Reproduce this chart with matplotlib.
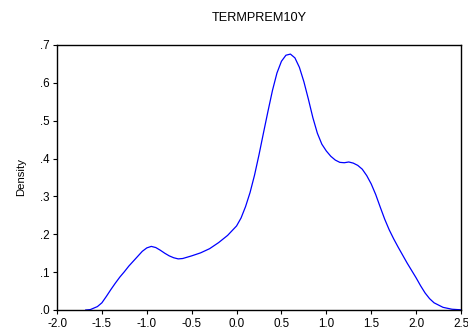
import matplotlib
matplotlib.use("Agg")
import matplotlib.pyplot as plt

plt.rcParams['font.family'] = ['Liberation Sans', 'DejaVu Sans']

title = "TERMPREM10Y"
ylabel = "Density"

# Kernel density estimate of the 10-year term premium
x_vals = [-1.68, -1.63, -1.6, -1.55, -1.5, -1.45, -1.4, -1.35, -1.3, -1.25,
          -1.2, -1.15, -1.1, -1.05, -1.0, -0.95, -0.9, -0.85, -0.8, -0.75,
          -0.7, -0.65, -0.6, -0.5, -0.4, -0.3, -0.2, -0.1, 0.0, 0.05,
          0.1, 0.15, 0.2, 0.25, 0.3, 0.35, 0.4, 0.45, 0.5, 0.55,
          0.6, 0.65, 0.7, 0.75, 0.8, 0.85, 0.9, 0.95, 1.0, 1.05,
          1.1, 1.15, 1.2, 1.25, 1.3, 1.35, 1.4, 1.45, 1.5, 1.55,
          1.6, 1.65, 1.7, 1.75, 1.8, 1.9, 2.0, 2.05, 2.1, 2.15,
          2.2, 2.3, 2.4, 2.5]
density = [0.0, 0.001, 0.004, 0.009, 0.019, 0.036, 0.054, 0.071, 0.087, 0.101,
           0.116, 0.129, 0.142, 0.155, 0.164, 0.168, 0.165, 0.158, 0.150, 0.143,
           0.138, 0.135, 0.136, 0.143, 0.151, 0.162, 0.178, 0.197, 0.222, 0.243,
           0.273, 0.310, 0.356, 0.410, 0.468, 0.525, 0.580, 0.626, 0.657, 0.673,
           0.676, 0.666, 0.641, 0.603, 0.557, 0.508, 0.467, 0.438, 0.420, 0.406,
           0.396, 0.390, 0.389, 0.391, 0.388, 0.382, 0.372, 0.355, 0.333, 0.305,
           0.272, 0.240, 0.212, 0.188, 0.166, 0.124, 0.085, 0.064, 0.045, 0.030,
           0.019, 0.007, 0.002, 0.0005]

x_ticks = [-2.0, -1.5, -1.0, -0.5, 0.0, 0.5, 1.0, 1.5, 2.0, 2.5]
x_ticklabels = ["-2.0", "-1.5", "-1.0", "-0.5", "0.0", "0.5", "1.0", "1.5", "2.0", "2.5"]
y_ticks = [0.0, 0.1, 0.2, 0.3, 0.4, 0.5, 0.6, 0.7]
y_ticklabels = [".0", ".1", ".2", ".3", ".4", ".5", ".6", ".7"]

W, H = 468, 332
fig = plt.figure(figsize=(W / 100, H / 100), dpi=100)
ax = fig.add_axes([57 / W, 1 - 310 / H, (461 - 57) / W, (310 - 45) / H])

ax.plot(x_vals, density, color="#0000ff", linewidth=0.9)

ax.set_xlim(-2.0, 2.5)
ax.set_ylim(0.0, 0.7)
ax.set_xticks(x_ticks)
ax.set_xticklabels(x_ticklabels)
ax.set_yticks(y_ticks)
ax.set_yticklabels(y_ticklabels)
ax.tick_params(direction="out", length=3, width=0.8, pad=2.5,
               labelsize=8.4, colors="black")

for sp in ax.spines.values():
    sp.set_linewidth(1.0)
    sp.set_color("black")

for lbl in ax.get_xticklabels():
    lbl.set_clip_on(False)

fig.text(259 / W, 1 - 18 / H, title, ha="center", va="center", fontsize=9.2)
fig.text(21 / W, 1 - 177 / H, ylabel, ha="center", va="center",
         rotation=90, fontsize=8.2)

fig.savefig("out.png", dpi=100)
